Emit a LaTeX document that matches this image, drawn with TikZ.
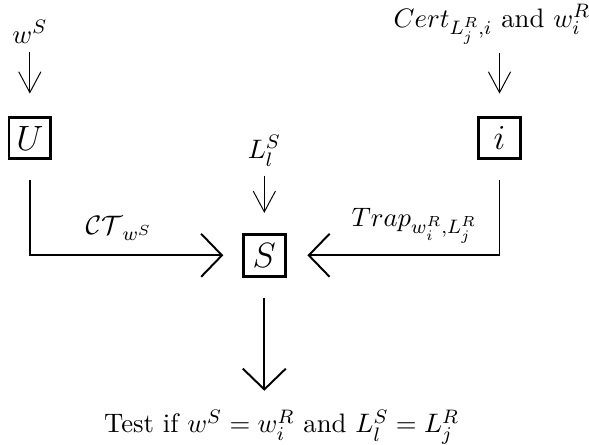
\documentclass[11pt,tikz,border=0pt]{standalone}
\usepackage{amsmath, amssymb}
\usetikzlibrary{arrows.meta}

\begin{document}
\begin{tikzpicture}[
	party/.style={draw, line width=1.2pt, minimum size=0.6cm, inner sep=0pt, font=\Large},
	inarrow/.style={line width=0.4pt, -{Straight Barb[length=3mm, width=3.2mm]}},
	flow/.style={line width=0.8pt, -{Straight Barb[length=3mm, width=6.2mm]}}
	]
	\useasboundingbox (-3.81, -2.73) rectangle (4.68, 3.68);
	
	% Parties
	\node[party] (U) at (-3.38, 1.69) {$U$};
	\node[party] (i) at (3.39, 1.69)  {$i$};
	\node[party] (S) at (0, 0)        {$S$};
	
	% Inputs
	\node[anchor=base] (ws)   at (-3.38, 3.06) {$w^S$};
	\node[anchor=base] (cert) at (3.28, 3.29)  {$Cert_{L_j^R,i}$ and $w_i^R$};
	\node[anchor=base] (Ll)   at (0, 1.40)     {$L_l^S$};
	\node[anchor=base] (test) at (0.25, -2.56) {Test if $w^S = w_i^R$ and $L_l^S = L_j^R$};
	
	% Connections
	\draw[inarrow, shorten >=0.32cm] (ws) -- (U);
	\draw[inarrow, shorten >=0.32cm] (cert.south -| i) -- (i);
	\draw[inarrow, shorten >=0.29cm] (Ll) -- (S);
	\draw[flow, shorten <=0.29cm, shorten >=0.27cm] (U.south) |- (S.west)
		node[pos=0.71, above=2pt] {$\mathcal{CT}_{w^S}$};
	\draw[flow, shorten <=0.29cm, shorten >=0.3cm] (i.south) |- (S.east)
		node[pos=0.70, above=1pt] {$Trap_{w_i^R,L_j^R}$};
	\draw[flow, shorten <=0.29cm, shorten >=0.14cm] (S.south) -- (S.south |- test.north);
\end{tikzpicture}
\end{document}
